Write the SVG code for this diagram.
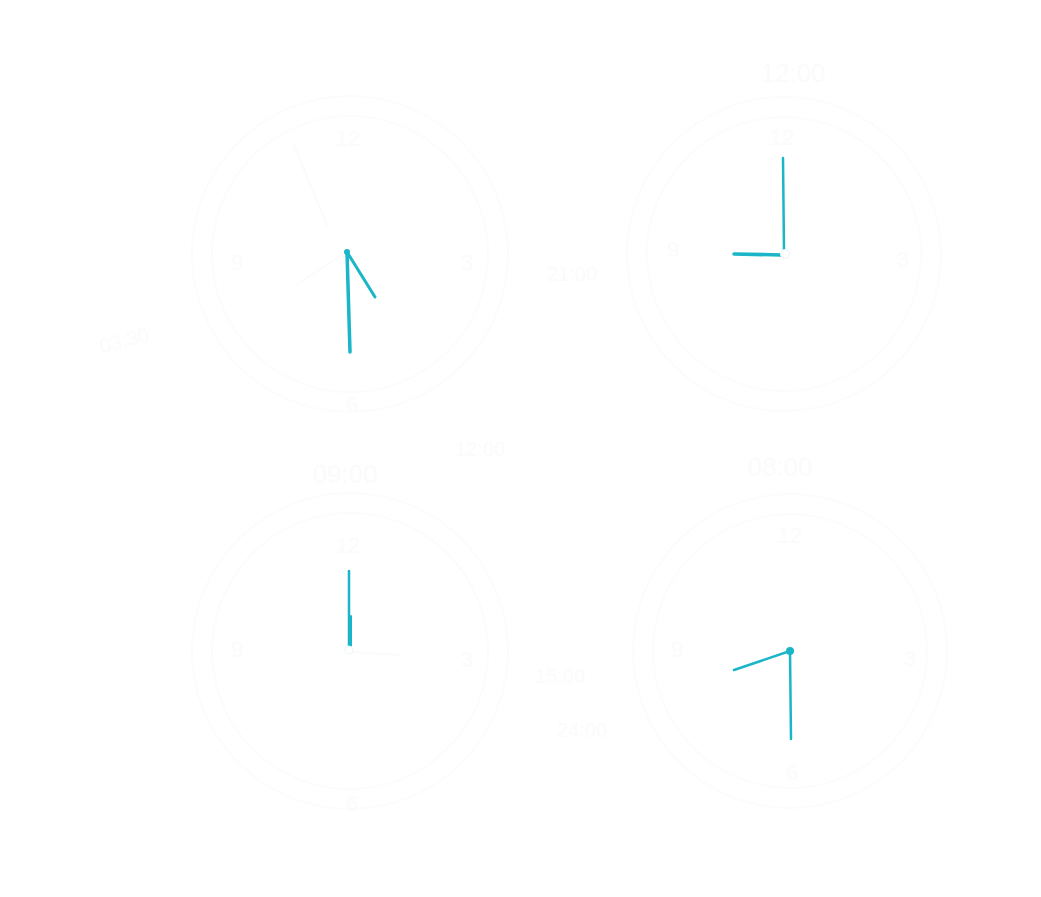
<svg xmlns="http://www.w3.org/2000/svg" width="1041" height="897" viewBox="0 0 1041 897">
<style>
.face{fill:none;stroke:#fcfcfc;stroke-width:2}
.num{font-family:"Liberation Sans",Arial,sans-serif;font-size:22px;fill:#fbfbfb;text-anchor:middle}
.lbl{font-family:"Liberation Sans",Arial,sans-serif;font-size:20px;fill:#fbfbfb;text-anchor:middle}
.ttl{font-family:"Liberation Sans",Arial,sans-serif;font-size:26px;fill:#fbfbfb;text-anchor:middle}
.faint{stroke:#fbfbfb;stroke-width:2;stroke-linecap:round;fill:none}
.hand{stroke:#1ab6c8;stroke-linecap:round;fill:none}
</style>
<rect width="1041" height="897" fill="#ffffff"/>
<g id="clock-top-left">
<circle class="face" cx="350" cy="254" r="158"/>
<circle class="face" cx="350" cy="254" r="138"/>
<text class="num" x="348" y="146">12</text>
<text class="num" x="467" y="270">3</text>
<text class="num" x="352" y="412">6</text>
<text class="num" x="237" y="270">9</text>
<text class="lbl" x="572" y="281">21:00</text>
<text class="lbl" x="126" y="347" transform="rotate(-15 126 347)">03:30</text>
<text class="lbl" x="480" y="456">12:00</text>
<line class="faint" x1="347" y1="252" x2="297" y2="284"/>
<line class="faint" x1="294" y1="145" x2="327" y2="225"/>
<line class="hand" x1="347" y1="252" x2="350" y2="352" stroke-width="3.5"/>
<line class="hand" x1="347" y1="252" x2="375" y2="297" stroke-width="3"/>
<circle cx="347" cy="252" r="3" fill="#1ab6c8"/>
</g>
<g id="clock-top-right">
<circle class="face" cx="784" cy="254" r="157"/>
<circle class="face" cx="784" cy="254" r="137"/>
<text class="ttl" x="793" y="82">12:00</text>
<text class="num" x="782" y="145">12</text>
<text class="num" x="903" y="267">3</text>
<text class="num" x="673" y="257">9</text>
<line class="hand" x1="783" y1="158" x2="784" y2="252" stroke-width="2.5"/>
<line class="hand" x1="734" y1="254" x2="782" y2="255" stroke-width="3.5"/>
<circle cx="785" cy="254" r="4.5" fill="#ffffff" stroke="#e6f6f8" stroke-width="1"/>
</g>
<g id="clock-bottom-left">
<circle class="face" cx="350" cy="651" r="158"/>
<circle class="face" cx="350" cy="651" r="138"/>
<text class="ttl" x="345" y="483">09:00</text>
<text class="num" x="348" y="553">12</text>
<text class="num" x="467" y="667">3</text>
<text class="num" x="352" y="811">6</text>
<text class="num" x="237" y="657">9</text>
<text class="lbl" x="560" y="683">15:00</text>
<text class="lbl" x="582" y="737">24:00</text>
<line class="faint" x1="349" y1="652" x2="400" y2="655"/>
<line class="hand" x1="349" y1="571" x2="349" y2="647" stroke-width="2.5"/>
<line class="hand" x1="351" y1="616" x2="351" y2="647" stroke-width="2"/>
<circle cx="349" cy="650" r="4" fill="#ffffff" stroke="#ebf7f9" stroke-width="1"/>
</g>
<g id="clock-bottom-right">
<circle class="face" cx="790" cy="651" r="157"/>
<circle class="face" cx="790" cy="651" r="137"/>
<text class="ttl" x="780" y="476">08:00</text>
<text class="num" x="790" y="543">12</text>
<text class="num" x="910" y="666">3</text>
<text class="num" x="792" y="780">6</text>
<text class="num" x="677" y="657">9</text>
<line class="hand" x1="790" y1="651" x2="791" y2="739" stroke-width="2.5"/>
<line class="hand" x1="790" y1="651" x2="734" y2="670" stroke-width="2.5"/>
<circle cx="790" cy="651" r="4" fill="#1ab6c8"/>
</g>
</svg>
